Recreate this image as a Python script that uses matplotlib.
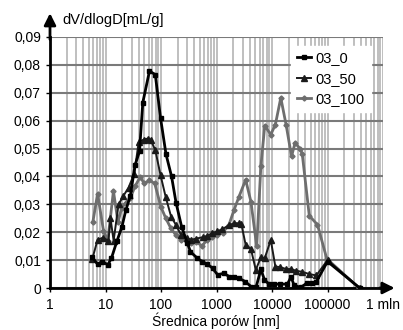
import matplotlib
matplotlib.use("Agg")
import matplotlib.pyplot as plt
from matplotlib.ticker import FixedLocator, NullFormatter

plt.rcParams['font.family'] = ['Liberation Sans', 'DejaVu Sans']

# --- data ---
x_03_0 = [5.8, 7.2, 8.8, 11.0, 12.8, 16.0, 19.8, 23.3, 28, 34, 41, 47, 62, 79, 98, 123, 155,
          187, 235, 300, 340, 450, 550, 680, 850, 1050, 1350, 1700, 2100, 2550, 3300, 4200,
          5200, 6300, 7300, 8700, 11000, 14000, 19000, 22000, 25000, 33000, 42000, 52000,
          62000, 100000, 380000]
y_03_0 = [0.0110, 0.0085, 0.0095, 0.0083, 0.0107, 0.0167, 0.0220, 0.0280, 0.0330, 0.0440,
          0.0490, 0.0665, 0.0778, 0.0765, 0.0610, 0.0480, 0.0400, 0.0305, 0.0220, 0.0160,
          0.0130, 0.0107, 0.0095, 0.0086, 0.0071, 0.0047, 0.0053, 0.0041, 0.0038, 0.0035,
          0.0023, 0.0005, 0.0005, 0.0067, 0.0030, 0.0015, 0.0014, 0.0014, 0.0014, 0.0040,
          0.0010, 0.0002, 0.0017, 0.0017, 0.0020, 0.0095, 0.0]

x_03_50 = [5.8, 7.2, 8.9, 11.3, 12.3, 14.0, 17.2, 21, 26, 33, 39.6, 48.6, 58, 65, 79, 98, 122,
           152, 185, 230, 290, 350, 430, 560, 680, 840, 1030, 1270, 1680, 2100, 2500, 2800,
           3350, 4170, 5100, 6300, 7400, 9500, 11500, 14000, 18000, 22000, 27000, 35000,
           47000, 63000, 100000, 380000]
y_03_50 = [0.0105, 0.0173, 0.0180, 0.0170, 0.0250, 0.0170, 0.0300, 0.0330, 0.0360, 0.0410,
           0.0523, 0.0532, 0.0536, 0.0532, 0.0494, 0.0405, 0.0325, 0.0256, 0.0227, 0.0190,
           0.0179, 0.0173, 0.0177, 0.0182, 0.0187, 0.0197, 0.0203, 0.0211, 0.0225, 0.0233,
           0.0232, 0.0230, 0.0155, 0.0140, 0.0065, 0.0110, 0.0107, 0.0172, 0.0077, 0.0075,
           0.0068, 0.0068, 0.0062, 0.0058, 0.0050, 0.0045, 0.0100, 0.0]

x_03_100 = [5.9, 7.2, 9.2, 11.0, 13.9, 16.8, 19.5, 23, 28, 34, 42, 50, 62, 77, 100, 122, 150,
            185, 230, 290, 350, 430, 550, 680, 840, 1030, 1300, 1680, 2070, 2550, 3350, 4170,
            5300, 6300, 7400, 9500, 11500, 14400, 18000, 22500, 26000, 32000, 35000, 47000,
            66000, 97000, 370000]
y_03_100 = [0.0235, 0.0338, 0.0205, 0.0170, 0.0348, 0.0235, 0.0287, 0.0305, 0.0323, 0.0364,
            0.0398, 0.0375, 0.0386, 0.0375, 0.0290, 0.0250, 0.0215, 0.0190, 0.0173, 0.0167,
            0.0163, 0.0165, 0.0151, 0.0173, 0.0182, 0.0190, 0.0199, 0.0227, 0.0280, 0.0328,
            0.0388, 0.0310, 0.0149, 0.0436, 0.0582, 0.0550, 0.0586, 0.0682, 0.0584, 0.0472,
            0.0520, 0.0500, 0.0482, 0.0259, 0.0227, 0.0105, 0.0]

x_ticks = [1, 10, 100, 1000, 10000, 100000, 1000000]
x_tick_labels = ['1', '10', '100', '1000', '10000', '100000', '1 mln']
y_ticks = [0, 0.01, 0.02, 0.03, 0.04, 0.05, 0.06, 0.07, 0.08, 0.09]
y_tick_labels = ['0', '0,01', '0,02', '0,03', '0,04', '0,05', '0,06', '0,07', '0,08', '0,09']

fig = plt.figure(figsize=(4.03, 3.30), dpi=100)
ax = fig.add_axes([50/403, 1 - 288/330, 333/403, 251/330])

ax.set_xscale('log')
ax.set_xlim(1, 1e6)
ax.set_ylim(0, 0.09)

# grid
minor = [m * 10**k for k in range(0, 6) for m in range(2, 10)]
ax.xaxis.set_major_locator(FixedLocator(x_ticks))
ax.xaxis.set_minor_locator(FixedLocator(minor))
ax.xaxis.set_minor_formatter(NullFormatter())
ax.set_xticklabels(x_tick_labels)
ax.set_yticks(y_ticks)
ax.set_yticklabels(y_tick_labels)
ax.grid(True, which='both', axis='x', color='#b4b4b4', linewidth=1.2)
ax.grid(True, which='major', axis='y', color='#7a7a7a', linewidth=1.5)
ax.set_axisbelow(True)

ax.tick_params(axis='both', which='major', labelsize=10, length=3, width=1, color='black')
ax.tick_params(axis='x', which='minor', length=0)
ax.tick_params(axis='x', pad=4)

for s in ['top', 'right']:
    ax.spines[s].set_visible(False)
for s in ['left', 'bottom']:
    ax.spines[s].set_linewidth(2)
    ax.spines[s].set_color('black')

l0, = ax.plot(x_03_0, y_03_0, color='black', lw=2.0, marker='s', ms=3.2, label='03_0', zorder=5)
l50, = ax.plot(x_03_50, y_03_50, color='#1a1a1a', lw=1.4, marker='^', ms=3.8, label='03_50', zorder=4)
l100, = ax.plot(x_03_100, y_03_100, color='#6e6e6e', lw=2.0, marker='D', ms=2.6, label='03_100', zorder=3)

# arrows on axes
ax.annotate('', xy=(0, 1.095), xytext=(0, 0.99), xycoords='axes fraction',
            arrowprops=dict(arrowstyle='-|>,head_width=0.35,head_length=0.7', color='black', lw=2,
                            shrinkA=0, shrinkB=0), annotation_clip=False)
ax.annotate('', xy=(1.035, 0), xytext=(0.99, 0), xycoords='axes fraction',
            arrowprops=dict(arrowstyle='-|>,head_width=0.35,head_length=0.7', color='black', lw=2,
                            shrinkA=0, shrinkB=0), annotation_clip=False)

leg = ax.legend(handles=[l0, l50, l100], loc='upper right', bbox_to_anchor=(0.985, 0.995),
                fontsize=10.5, frameon=True, fancybox=False, framealpha=1, edgecolor='white',
                handlelength=1.0, handletextpad=0.3, borderpad=0.4, labelspacing=0.45)

fig.text(62/403, 1 - 20/330, 'dV/dlogD[mL/g]', fontsize=10.5, va='center', ha='left')
fig.text(216/403, 1 - 321/330, 'Średnica porów [nm]', fontsize=10, va='center', ha='center')

fig.savefig('out.png', dpi=100)
